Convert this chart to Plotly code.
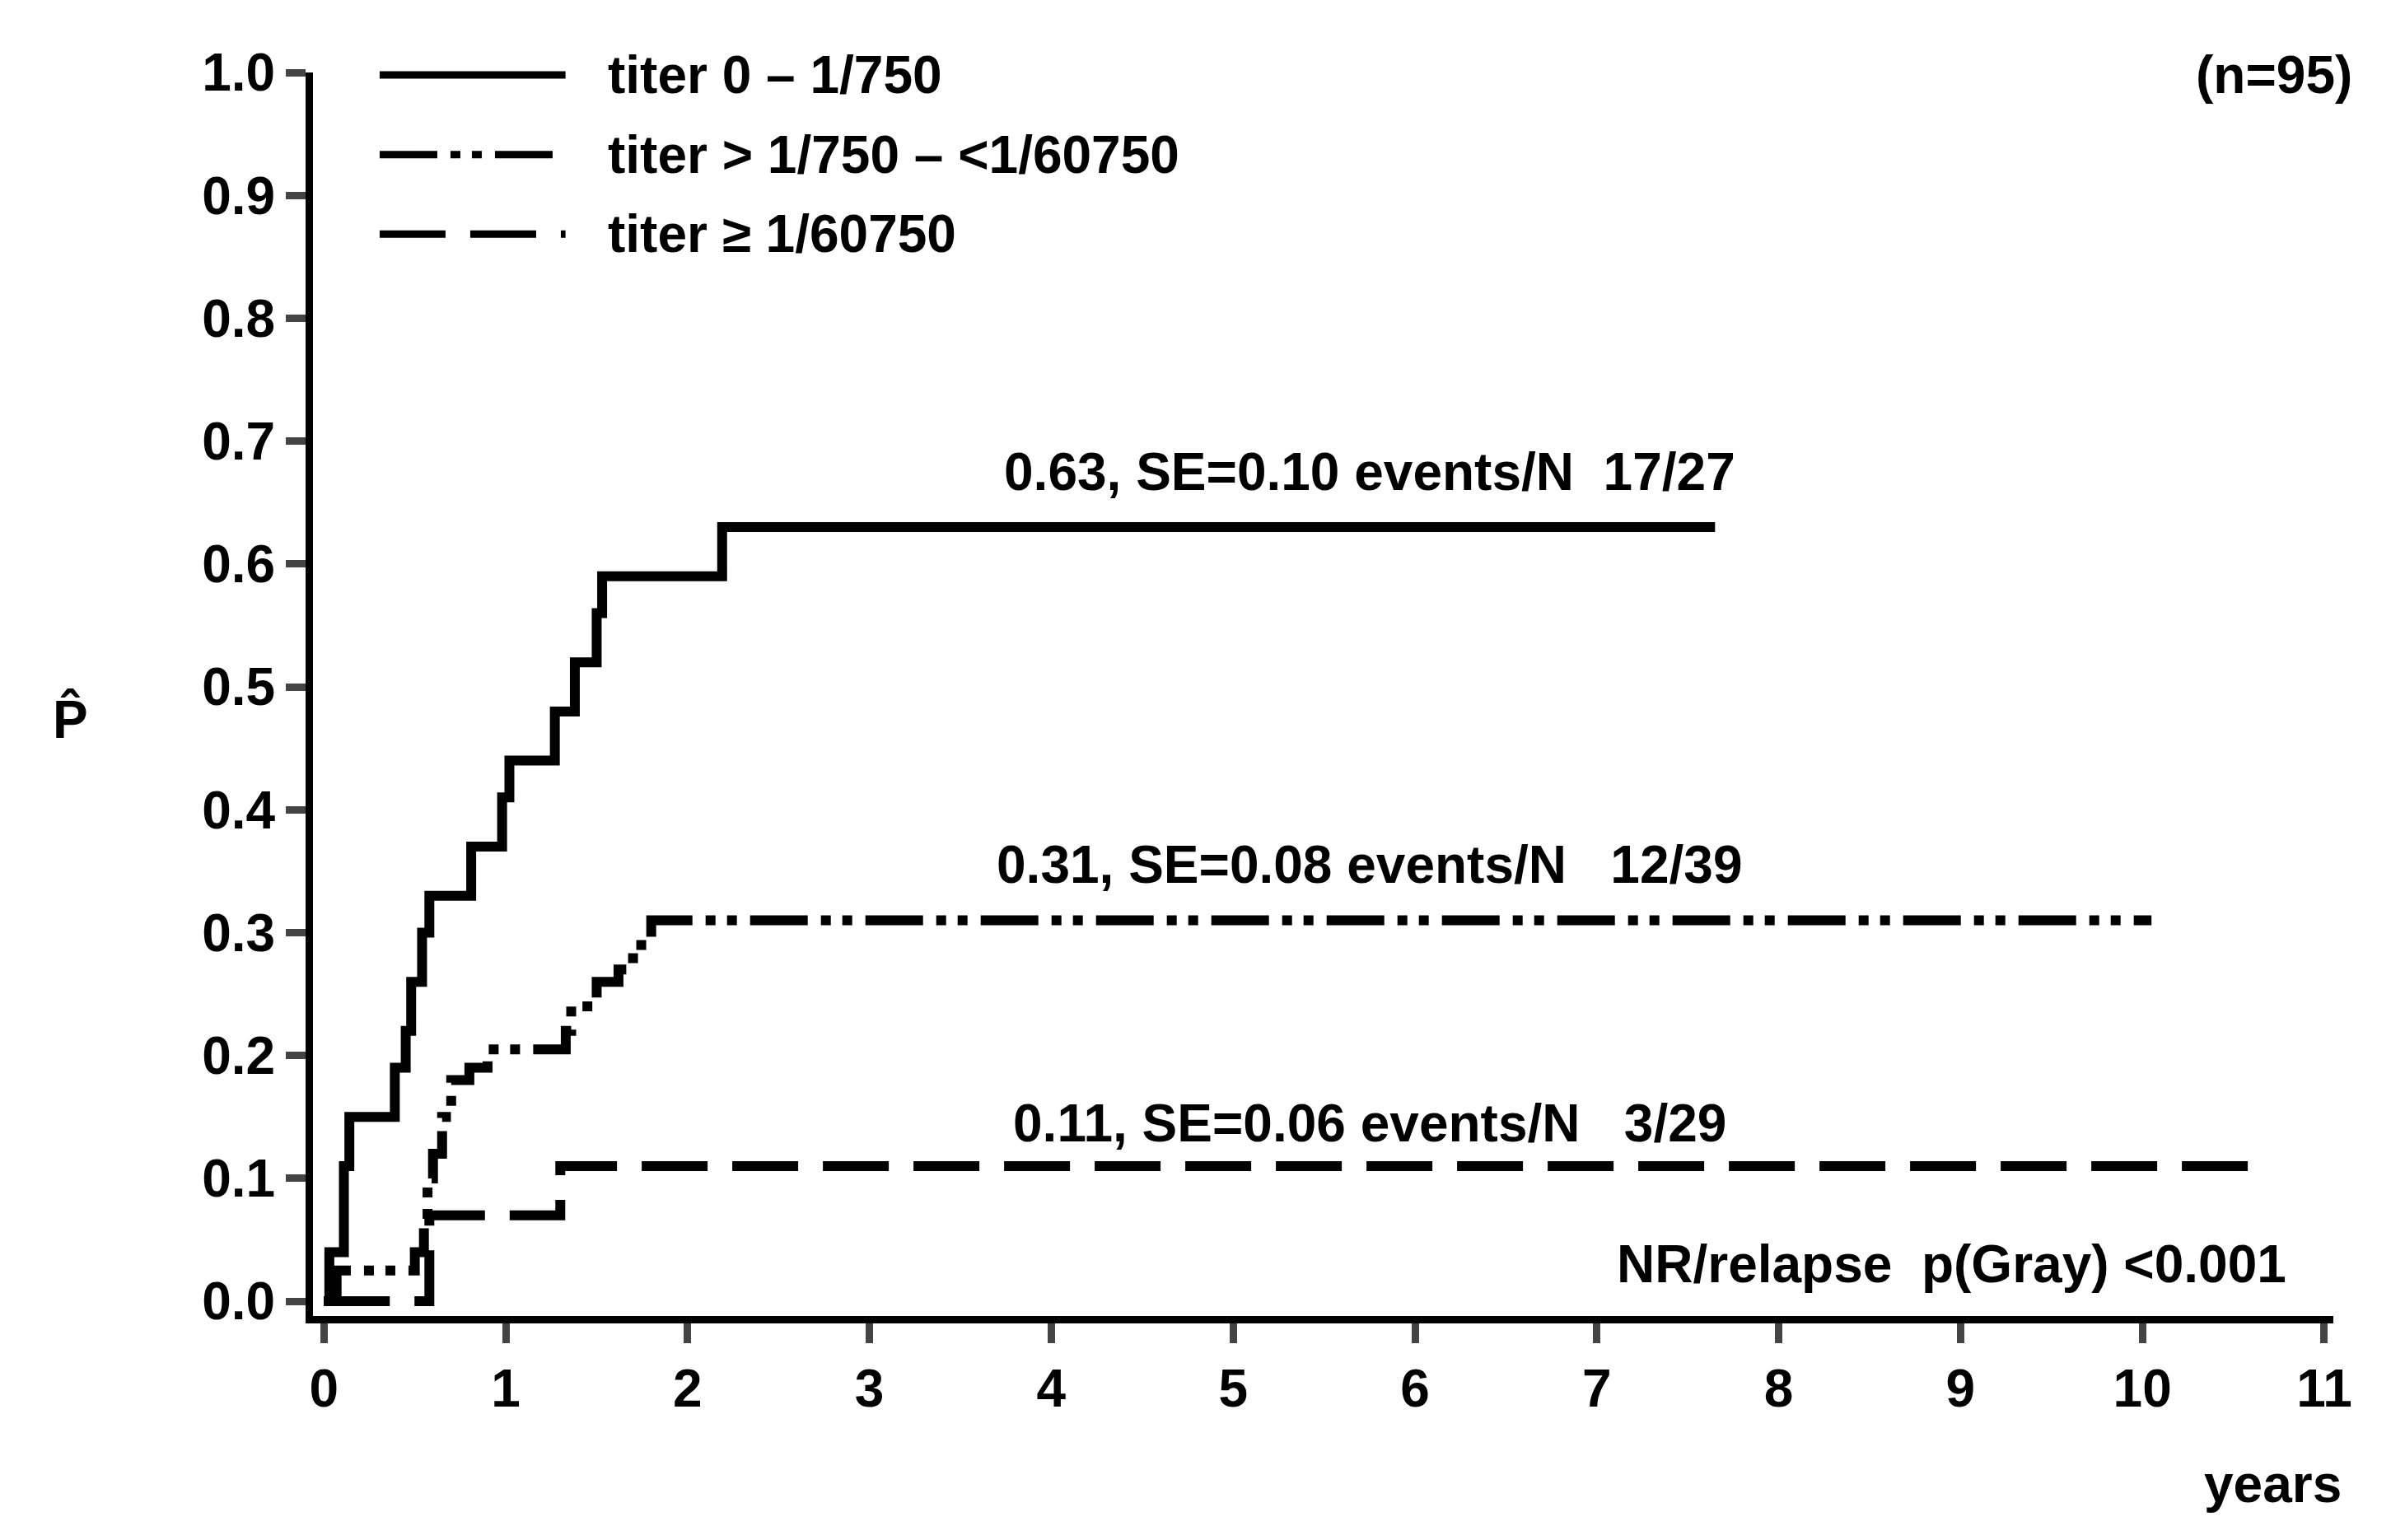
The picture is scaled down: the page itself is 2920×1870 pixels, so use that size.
import plotly.graph_objects as go

# solid: titer 0 - 1/750
t1 = [0, 0.03, 0.11, 0.14, 0.39, 0.45, 0.48, 0.54, 0.58, 0.81, 0.98, 1.02, 1.27, 1.38, 1.50, 1.53, 2.19, 7.65]
p1 = [0, 0.04, 0.11, 0.15, 0.19, 0.22, 0.26, 0.30, 0.33, 0.37, 0.41, 0.44, 0.48, 0.52, 0.56, 0.59, 0.63, 0.63]
# dash-dot-dot: titer >1/750 - <1/60750
t2 = [0, 0.07, 0.50, 0.55, 0.57, 0.60, 0.65, 0.70, 0.80, 0.90, 1.33, 1.36, 1.50, 1.62, 1.70, 1.80, 10.05]
p2 = [0, 0.025, 0.04, 0.06, 0.10, 0.12, 0.15, 0.18, 0.19, 0.205, 0.22, 0.24, 0.26, 0.27, 0.29, 0.31, 0.31]
# dashed: titer >= 1/60750
t3 = [0, 0.58, 1.30, 10.70]
p3 = [0, 0.07, 0.11, 0.11]

names = ["titer 0 \u2013 1/750", "titer > 1/750 \u2013 <1/60750", "titer \u2265 1/60750"]
dashes = ["solid", "70px,16px,12px,14px,12px,16px", "80px,30px"]
labels = ["0.63, SE=0.10 events/N  17/27", "0.31, SE=0.08 events/N   12/39", "0.11, SE=0.06 events/N   3/29"]
label_y = [0.675, 0.355, 0.145]
xticks = list(range(0, 12))
yticks = [round(i * 0.1, 1) for i in range(11)]

F = "Liberation Sans, Arial, sans-serif"
FS = 64
fig = go.Figure()
for t, p, d in zip([t1, t2, t3], [p1, p2, p3], dashes):
    fig.add_trace(go.Scatter(x=t, y=p, mode="lines", line=dict(shape="hv", color="black", width=12, dash=d),
                             showlegend=False))

for lab, ly in zip(labels, label_y):
    fig.add_annotation(x=5.75, y=ly, text="<b>" + lab + "</b>", showarrow=False, xanchor="center", yanchor="middle",
                       font=dict(size=FS, family=F, color="black"))
fig.add_annotation(x=10.8, y=0.03, text="<b>NR/relapse  p(Gray) <0.001</b>", showarrow=False, xanchor="right",
                   font=dict(size=FS, family=F, color="black"))

# legend
for i, (n, d) in enumerate(zip(names, dashes)):
    yy = 0.998 - i * 0.064
    fig.add_shape(type="line", xref="paper", yref="paper", x0=0.033, x1=0.125, y0=yy, y1=yy,
                  line=dict(color="black", width=9, dash=d))
    fig.add_annotation(xref="paper", yref="paper", x=0.145, y=yy, text="<b>" + n + "</b>", showarrow=False,
                       xanchor="left", yanchor="middle", font=dict(size=FS, family=F, color="black"))
fig.add_annotation(xref="paper", yref="paper", x=1.01, y=0.998, text="<b>(n=95)</b>", showarrow=False,
                   xanchor="right", yanchor="middle", font=dict(size=FS, family=F, color="black"))
fig.add_annotation(xref="paper", yref="paper", x=1.005, y=-0.135, text="<b>years</b>", showarrow=False,
                   xanchor="right", yanchor="middle", font=dict(size=FS, family=F, color="black"))
fig.add_annotation(xref="paper", yref="paper", x=-0.12, y=0.48, text="<b>P\u0302</b>", showarrow=False,
                   xanchor="center", yanchor="middle", font=dict(size=FS, family=F, color="black"))

fig.update_layout(
    width=2920, height=1870, plot_bgcolor="white", paper_bgcolor="white",
    margin=dict(l=372, r=95, t=80, b=280),
    xaxis=dict(range=[-0.06, 11.05], tickvals=xticks, ticktext=["<b>%d</b>" % v for v in xticks],
               ticks="outside", ticklen=24, tickwidth=9,
               showline=True, linewidth=9, linecolor="black", showgrid=False, zeroline=False,
               tickfont=dict(size=FS, family=F, color="black")),
    yaxis=dict(range=[-0.012, 1.0], tickvals=yticks, ticktext=["<b>%.1f</b>" % v for v in yticks],
               ticks="outside", ticklen=24, tickwidth=9,
               showline=True, linewidth=9, linecolor="black", showgrid=False, zeroline=False,
               tickfont=dict(size=FS, family=F, color="black")),
)
fig.write_html("out.html")
